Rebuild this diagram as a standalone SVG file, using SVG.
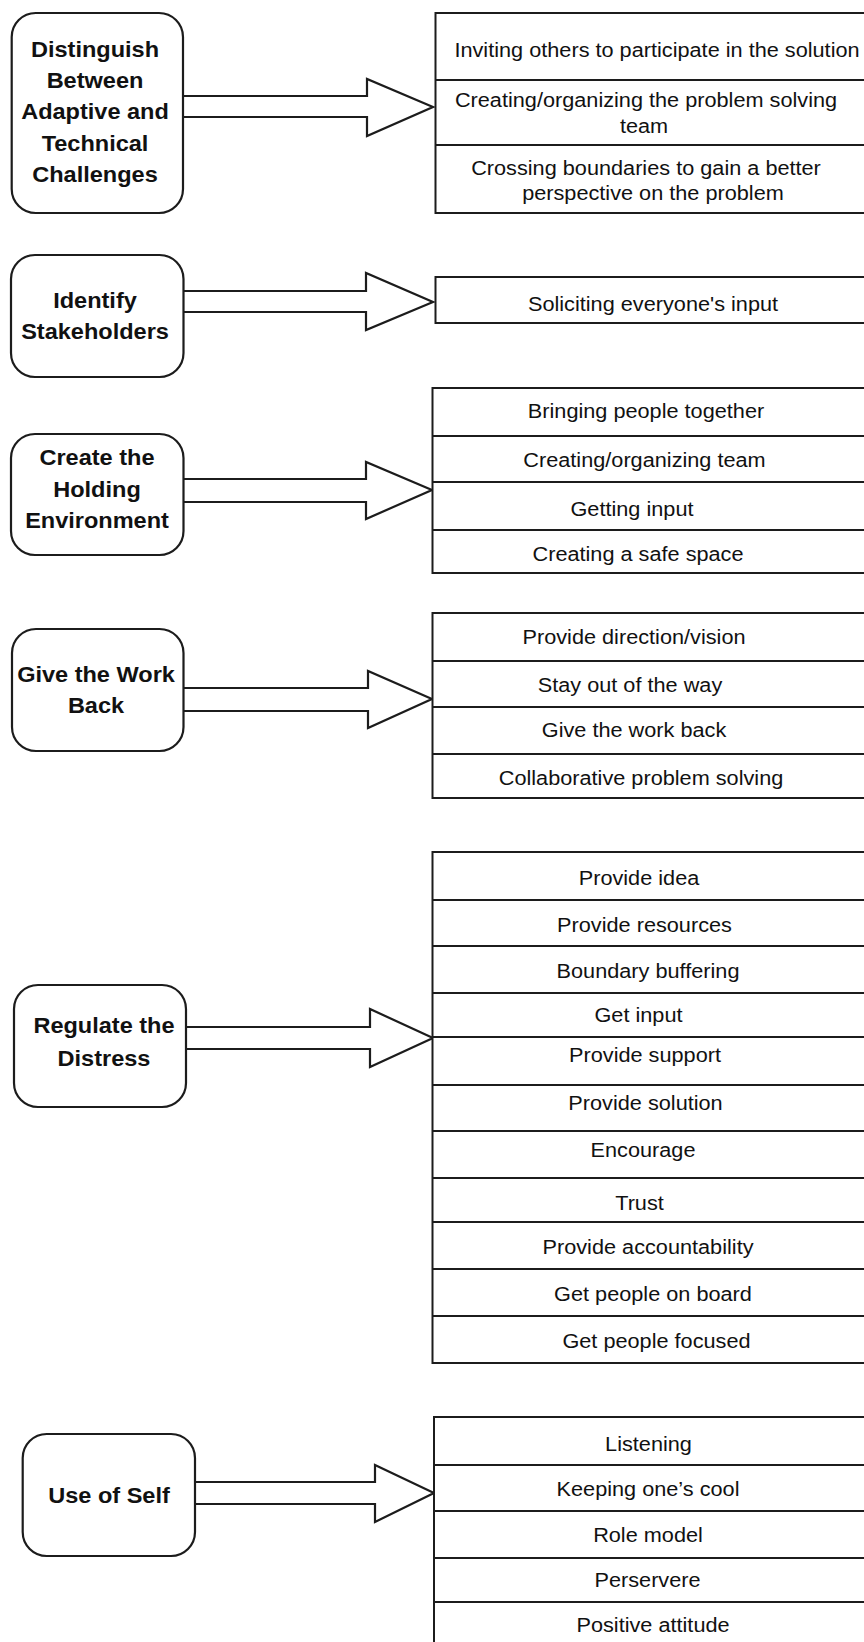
<svg xmlns="http://www.w3.org/2000/svg" width="864" height="1642" viewBox="0 0 864 1642">
  <style>
    .bg { fill: #ffffff; }
    .node { fill: #ffffff; stroke: #1c1c1c; stroke-width: 2.2; }
    .arrow { fill: #ffffff; stroke: #1c1c1c; stroke-width: 2.2; stroke-linejoin: miter; }
    .table { fill: #ffffff; stroke: #1c1c1c; stroke-width: 2; }
    .row { stroke: #1c1c1c; stroke-width: 2; }
    .title { font-family: "Liberation Sans", Arial, sans-serif; font-weight: bold; font-size: 22px; fill: #111111; text-anchor: middle; }
    .item { font-family: "Liberation Sans", Arial, sans-serif; font-size: 20px; fill: #111111; text-anchor: middle; }
  </style>
  <rect class="bg" x="0" y="0" width="864" height="1642"/>

  <!-- connectors: hollow block arrows from each step to its list -->
  <g id="connectors">
    <path class="arrow" d="M183,96 L367,96 L367,79 L433,107 L367,136 L367,117 L183,117"/>
    <path class="arrow" d="M183.5,291 L366,291 L366,273 L433,302 L366,330 L366,312 L183.5,312"/>
    <path class="arrow" d="M183.5,479 L366,479 L366,462 L432,490 L366,519 L366,502 L183.5,502"/>
    <path class="arrow" d="M183.5,688 L368,688 L368,671 L432,699 L368,728 L368,711 L183.5,711"/>
    <path class="arrow" d="M186,1027 L370,1027 L370,1009 L433,1038 L370,1067 L370,1049 L186,1049"/>
    <path class="arrow" d="M195,1482 L375,1482 L375,1465 L434,1493 L375,1522 L375,1504 L195,1504"/>
  </g>

  <!-- step 1 -->
  <g id="step-distinguish">
    <rect class="node" x="11.7" y="13" width="171.3" height="200" rx="24"/>
    <text class="title" transform="translate(95 57) scale(1.07 1)">Distinguish</text>
    <text class="title" transform="translate(95 88) scale(1.07 1)">Between</text>
    <text class="title" transform="translate(95 119) scale(1.07 1)">Adaptive and</text>
    <text class="title" transform="translate(95 150.5) scale(1.07 1)">Technical</text>
    <text class="title" transform="translate(95 182) scale(1.07 1)">Challenges</text>
  </g>
  <g id="list-distinguish">
    <rect class="table" x="435.5" y="13" width="440" height="200"/>
    <line class="row" x1="435.5" y1="80" x2="880" y2="80"/>
    <line class="row" x1="435.5" y1="145" x2="880" y2="145"/>
    <text class="item" transform="translate(657 57) scale(1.085 1)">Inviting others to participate in the solution</text>
    <text class="item" transform="translate(646 107) scale(1.085 1)">Creating/organizing the problem solving</text>
    <text class="item" transform="translate(644 133) scale(1.085 1)">team</text>
    <text class="item" transform="translate(646 175) scale(1.085 1)">Crossing boundaries to gain a better</text>
    <text class="item" transform="translate(653 200) scale(1.085 1)">perspective on the problem</text>
  </g>

  <!-- step 2 -->
  <g id="step-stakeholders">
    <rect class="node" x="11" y="255" width="172.5" height="122" rx="24"/>
    <text class="title" transform="translate(95 308) scale(1.07 1)">Identify</text>
    <text class="title" transform="translate(95 339) scale(1.07 1)">Stakeholders</text>
  </g>
  <g id="list-stakeholders">
    <rect class="table" x="435.5" y="277" width="440" height="46"/>
    <text class="item" transform="translate(653 311) scale(1.085 1)">Soliciting everyone's input</text>
  </g>

  <!-- step 3 -->
  <g id="step-holding">
    <rect class="node" x="11" y="434" width="172.5" height="121" rx="24"/>
    <text class="title" transform="translate(97 465) scale(1.07 1)">Create the</text>
    <text class="title" transform="translate(97 497) scale(1.07 1)">Holding</text>
    <text class="title" transform="translate(97 528) scale(1.07 1)">Environment</text>
  </g>
  <g id="list-holding">
    <rect class="table" x="432.5" y="388" width="445" height="185"/>
    <line class="row" x1="432.5" y1="436" x2="880" y2="436"/>
    <line class="row" x1="432.5" y1="482" x2="880" y2="482"/>
    <line class="row" x1="432.5" y1="530" x2="880" y2="530"/>
    <text class="item" transform="translate(646 418) scale(1.085 1)">Bringing people together</text>
    <text class="item" transform="translate(644.5 467) scale(1.085 1)">Creating/organizing team</text>
    <text class="item" transform="translate(632 516) scale(1.085 1)">Getting input</text>
    <text class="item" transform="translate(638 561) scale(1.085 1)">Creating a safe space</text>
  </g>

  <!-- step 4 -->
  <g id="step-work-back">
    <rect class="node" x="12" y="629" width="171.5" height="122" rx="24"/>
    <text class="title" transform="translate(96 682) scale(1.07 1)">Give the Work</text>
    <text class="title" transform="translate(96 713) scale(1.07 1)">Back</text>
  </g>
  <g id="list-work-back">
    <rect class="table" x="432.5" y="613" width="445" height="185"/>
    <line class="row" x1="432.5" y1="661" x2="880" y2="661"/>
    <line class="row" x1="432.5" y1="707" x2="880" y2="707"/>
    <line class="row" x1="432.5" y1="754" x2="880" y2="754"/>
    <text class="item" transform="translate(634 644) scale(1.085 1)">Provide direction/vision</text>
    <text class="item" transform="translate(630 692) scale(1.085 1)">Stay out of the way</text>
    <text class="item" transform="translate(634 737) scale(1.085 1)">Give the work back</text>
    <text class="item" transform="translate(641 785) scale(1.085 1)">Collaborative problem solving</text>
  </g>

  <!-- step 5 -->
  <g id="step-distress">
    <rect class="node" x="14" y="985" width="172" height="122" rx="24"/>
    <text class="title" transform="translate(104 1033) scale(1.07 1)">Regulate the</text>
    <text class="title" transform="translate(104 1066) scale(1.07 1)">Distress</text>
  </g>
  <g id="list-distress">
    <rect class="table" x="432.5" y="852" width="445" height="511"/>
    <line class="row" x1="432.5" y1="900" x2="880" y2="900"/>
    <line class="row" x1="432.5" y1="946" x2="880" y2="946"/>
    <line class="row" x1="432.5" y1="993" x2="880" y2="993"/>
    <line class="row" x1="432.5" y1="1037" x2="880" y2="1037"/>
    <line class="row" x1="432.5" y1="1085" x2="880" y2="1085"/>
    <line class="row" x1="432.5" y1="1131" x2="880" y2="1131"/>
    <line class="row" x1="432.5" y1="1178" x2="880" y2="1178"/>
    <line class="row" x1="432.5" y1="1222" x2="880" y2="1222"/>
    <line class="row" x1="432.5" y1="1269" x2="880" y2="1269"/>
    <line class="row" x1="432.5" y1="1316" x2="880" y2="1316"/>
    <text class="item" transform="translate(639 885) scale(1.085 1)">Provide idea</text>
    <text class="item" transform="translate(644.5 932) scale(1.085 1)">Provide resources</text>
    <text class="item" transform="translate(648 978) scale(1.085 1)">Boundary buffering</text>
    <text class="item" transform="translate(638.5 1022) scale(1.085 1)">Get input</text>
    <text class="item" transform="translate(645 1062) scale(1.085 1)">Provide support</text>
    <text class="item" transform="translate(645.5 1110) scale(1.085 1)">Provide solution</text>
    <text class="item" transform="translate(643 1157) scale(1.085 1)">Encourage</text>
    <text class="item" transform="translate(639.5 1210) scale(1.085 1)">Trust</text>
    <text class="item" transform="translate(648 1254) scale(1.085 1)">Provide accountability</text>
    <text class="item" transform="translate(653 1301) scale(1.085 1)">Get people on board</text>
    <text class="item" transform="translate(656.5 1348) scale(1.085 1)">Get people focused</text>
  </g>

  <!-- step 6 -->
  <g id="step-self">
    <rect class="node" x="22.7" y="1434" width="172.3" height="122" rx="24"/>
    <text class="title" transform="translate(109 1503) scale(1.07 1)">Use of Self</text>
  </g>
  <g id="list-self">
    <rect class="table" x="434" y="1417" width="445" height="240"/>
    <line class="row" x1="434" y1="1465" x2="880" y2="1465"/>
    <line class="row" x1="434" y1="1511" x2="880" y2="1511"/>
    <line class="row" x1="434" y1="1558" x2="880" y2="1558"/>
    <line class="row" x1="434" y1="1602" x2="880" y2="1602"/>
    <text class="item" transform="translate(648.5 1451) scale(1.085 1)">Listening</text>
    <text class="item" transform="translate(648 1496) scale(1.085 1)">Keeping one’s cool</text>
    <text class="item" transform="translate(648 1542) scale(1.085 1)">Role model</text>
    <text class="item" transform="translate(647.5 1587) scale(1.085 1)">Perservere</text>
    <text class="item" transform="translate(653 1632) scale(1.085 1)">Positive attitude</text>
  </g>
</svg>
